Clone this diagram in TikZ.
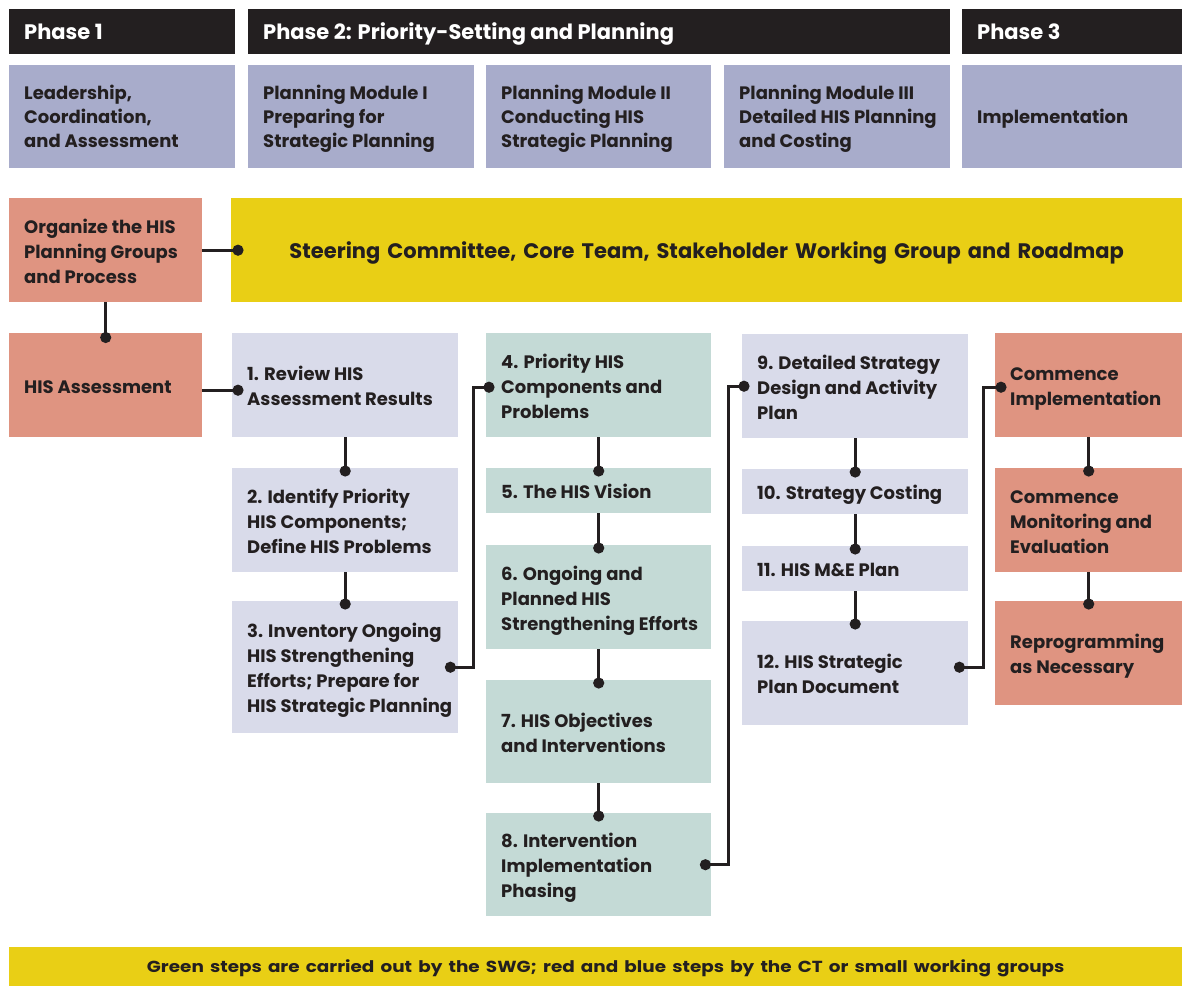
\documentclass[tikz,border=0pt]{standalone}
\usepackage{fontspec}
\setmainfont{Poppins}
\usetikzlibrary{arrows.meta}
\definecolor{ink}{HTML}{231F20}
\definecolor{hdr}{HTML}{231F20}
\definecolor{slate}{HTML}{A8ACCB}
\definecolor{lav}{HTML}{D9DBEA}
\definecolor{mint}{HTML}{C4DAD6}
\definecolor{salmon}{HTML}{DF9481}
\definecolor{gold}{HTML}{E9CF15}
\newcommand{\tx}[1]{\raisebox{-3pt}[\height][\depth]{\begin{tabular}{@{}l@{}}#1\end{tabular}}}
\newcommand{\tm}[1]{\raisebox{-2pt}[\height][\depth]{\begin{tabular}{@{}l@{}}#1\end{tabular}}}
\tikzset{
  box/.style={rectangle, anchor=north west, inner xsep=15pt, inner ysep=0pt,
    align=flush left, text=ink, font=\bfseries\fontsize{18}{25}\selectfont},
  mbox/.style={box, fill=slate, font=\bfseries\fontsize{18}{24}\selectfont},
  hbox/.style={box, fill=hdr, text=white, font=\bfseries\fontsize{21}{24}\selectfont},
  conn/.style={draw=ink, line width=2.6pt, -{Circle[length=11pt]}},
  conn2/.style={draw=ink, line width=2.6pt, {Circle[length=11pt]}-{Circle[length=11pt]}},
}
\begin{document}
\begin{tikzpicture}[x=1pt,y=-1pt]
\useasboundingbox (0,0) rectangle (1182,986);
% headers
\node[hbox, minimum width=226pt, text width=196pt, minimum height=45pt] (p1) at (9,9) {\tx{Phase 1}};
\node[hbox, minimum width=702pt, text width=672pt, minimum height=45pt] (p2) at (248,9) {\tx{Phase 2: Priority-Setting and Planning}};
\node[hbox, minimum width=220pt, text width=190pt, minimum height=45pt] (p3) at (962,9) {\tx{Phase 3}};
% modules
\node[mbox, minimum width=226pt, text width=196pt, minimum height=103pt] (m0) at (9,65) {\tm{Leadership,\\Coordination,\\and Assessment}};
\node[mbox, minimum width=226pt, text width=196pt, minimum height=103pt] (m1) at (248,65) {\tm{Planning Module I\\Preparing for\\Strategic Planning}};
\node[mbox, minimum width=225pt, text width=195pt, minimum height=103pt] (m2) at (486,65) {\tm{Planning Module II\\Conducting HIS\\Strategic Planning}};
\node[mbox, minimum width=226pt, text width=196pt, minimum height=103pt] (m3) at (724,65) {\tm{Planning Module III\\Detailed HIS Planning\\and Costing}};
\node[mbox, minimum width=220pt, text width=190pt, minimum height=103pt] (m4) at (962,65) {\tm{Implementation}};
% row 3
\node[box, fill=salmon, minimum width=193pt, text width=163pt, minimum height=104pt] (org) at (9,198) {\tx{Organize the HIS\\Planning Groups\\and Process}};
\node[box, fill=gold, minimum width=951pt, text width=921pt, minimum height=104pt, align=center, font=\bfseries\fontsize{21}{25}\selectfont] (ste) at (231,198) {\tx{Steering Committee, Core Team, Stakeholder Working Group and Roadmap}};
\node[box, fill=salmon, minimum width=193pt, text width=163pt, minimum height=104pt] (assess) at (9,333) {\tx{HIS Assessment}};
% column 2
\node[box, fill=lav, minimum width=226pt, text width=196pt, minimum height=104pt] (b1) at (232,333) {\tx{1. Review HIS\\Assessment Results}};
\node[box, fill=lav, minimum width=226pt, text width=196pt, minimum height=104pt] (b2) at (232,468) {\tx{2. Identify Priority\\HIS Components;\\Define HIS Problems}};
\node[box, fill=lav, minimum width=226pt, text width=196pt, minimum height=132pt] (b3) at (232,601) {\tx{3. Inventory Ongoing\\HIS Strengthening\\Efforts; Prepare for\\HIS Strategic Planning}};
% column 3
\node[box, fill=mint, minimum width=225pt, text width=195pt, minimum height=104pt] (b4) at (486,333) {\tx{4. Priority HIS\\Components and\\Problems}};
\node[box, fill=mint, minimum width=225pt, text width=195pt, minimum height=45pt] (b5) at (486,468) {\tx{5. The HIS Vision}};
\node[box, fill=mint, minimum width=225pt, text width=195pt, minimum height=104pt] (b6) at (486,545) {\tx{6. Ongoing and\\Planned HIS\\Strengthening Efforts}};
\node[box, fill=mint, minimum width=225pt, text width=195pt, minimum height=103pt] (b7) at (486,680) {\tx{7. HIS Objectives\\and Interventions}};
\node[box, fill=mint, minimum width=225pt, text width=195pt, minimum height=103pt] (b8) at (486,813) {\tx{8. Intervention\\Implementation\\Phasing}};
% column 4
\node[box, fill=lav, minimum width=226pt, text width=196pt, minimum height=104pt] (b9) at (742,334) {\tx{9. Detailed Strategy\\Design and Activity\\Plan}};
\node[box, fill=lav, minimum width=226pt, text width=196pt, minimum height=45pt] (b10) at (742,469) {\tx{10. Strategy Costing}};
\node[box, fill=lav, minimum width=226pt, text width=196pt, minimum height=45pt] (b11) at (742,546) {\tx{11. HIS M\&E Plan}};
\node[box, fill=lav, minimum width=226pt, text width=196pt, minimum height=104pt] (b12) at (742,621) {\tx{12. HIS Strategic\\Plan Document}};
% column 5
\node[box, fill=salmon, minimum width=187pt, text width=157pt, minimum height=104pt] (r1) at (995,333) {\tx{Commence\\Implementation}};
\node[box, fill=salmon, minimum width=187pt, text width=157pt, minimum height=104pt] (r2) at (995,468) {\tx{Commence\\Monitoring and\\Evaluation}};
\node[box, fill=salmon, minimum width=187pt, text width=157pt, minimum height=104pt] (r3) at (995,601) {\tx{Reprogramming\\as Necessary}};
% banner
\node[box, fill=gold, minimum width=1173pt, text width=1143pt, minimum height=39pt, align=center, font=\bfseries\fontsize{16}{20}\selectfont] (ban) at (9,947) {\hspace*{20pt}\raisebox{-1.5pt}[\height][\depth]{\scalebox{1.15}[1]{Green steps are carried out by the SWG; red and blue steps by the CT or small working groups}}};
% connectors
\draw[conn] (org.east) -- ([xshift=12.5pt]ste.west);
\draw[conn] (org.south) -- ([yshift=-10pt]assess.north);
\draw[conn] ([yshift=-5pt]assess.east) -- ([xshift=11.5pt,yshift=-5pt]b1.west);
\draw[conn] (b1.south) -- ([yshift=-8.5pt]b2.north);
\draw[conn] (b2.south) -- ([yshift=-8.5pt]b3.north);
\draw[conn] (b4.south) -- ([yshift=-8.5pt]b5.north);
\draw[conn] (b5.south) -- ([yshift=-8.5pt]b6.north);
\draw[conn] (b6.south) -- ([yshift=-8.5pt]b7.north);
\draw[conn] (b7.south) -- ([yshift=-8.5pt]b8.north);
\draw[conn] (b9.south) -- ([yshift=-8.5pt]b10.north);
\draw[conn] (b10.south) -- ([yshift=-8.5pt]b11.north);
\draw[conn] (b11.south) -- ([yshift=-8.5pt]b12.north);
\draw[conn] (r1.south) -- ([yshift=-8.5pt]r2.north);
\draw[conn] (r2.south) -- ([yshift=-8.5pt]r3.north);
\draw[conn2] ([xshift=-13.5pt]b3.east) -- ++(28.5,0) |- ([xshift=8.5pt,yshift=-2pt]b4.west);
\draw[conn2] ([xshift=-11.5pt]b8.east) -- ++(28.5,0) |- ([xshift=7.5pt]b9.west);
\draw[conn2] ([xshift=-14.5pt,yshift=6pt]b12.east) -- ++(29.5,0) |- ([xshift=11.5pt,yshift=-2pt]r1.west);
\end{tikzpicture}
\end{document}
